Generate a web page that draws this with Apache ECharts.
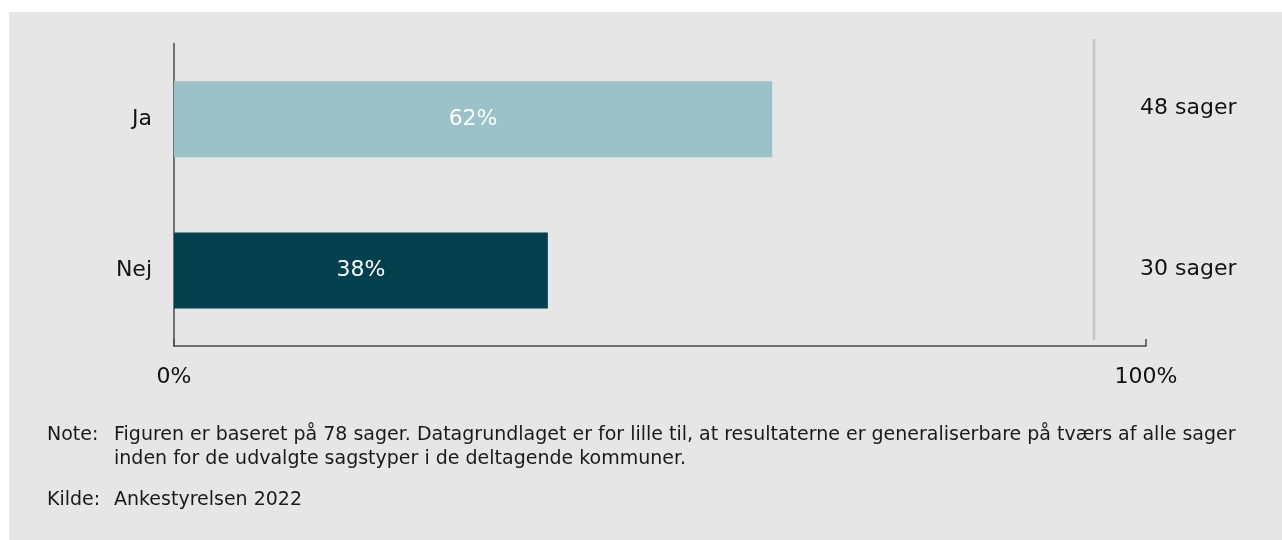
<!DOCTYPE html>
<html>
<head>
<meta charset="utf-8">
<script src="https://cdn.jsdelivr.net/npm/echarts@6/dist/echarts.min.js"></script>
<style>
  html, body { margin: 0; padding: 0; background: #fff; }
  #chart {
    position: absolute;
    left: 9px;
    top: 12px;
    width: 1273px;
    height: 528px;
  }
</style>
</head>
<body>
<div id="chart"></div>
<script>
// data
var categories = ["Ja", "Nej"];
var cases = [48, 30]; // antal sager
var barColors = ["#9bc1c9", "#02404e"];
var xTicks = [0, 100];
var noteLines = [
  "Figuren er baseret på 78 sager. Datagrundlaget er for lille til, at resultaterne er generaliserbare på tværs af alle sager",
  "inden for de udvalgte sagstyper i de deltagende kommuner."
];
var sourceText = "Ankestyrelsen 2022";

var total = cases.reduce(function (a, b) { return a + b; }, 0);
var pct = cases.map(function (c) { return (c / total) * 100; });

var font = "DejaVu Sans";
var bigSize = 22;
var noteSize = 19;
var myChart = echarts.init(document.getElementById("chart"));

function noteText(txt, x, y) {
  return {
    type: "text",
    x: x,
    y: y,
    style: {
      text: txt,
      fontFamily: font,
      fontSize: noteSize,
      fill: "#1a1a1a",
      verticalAlign: "middle",
    },
    silent: true,
  };
}

var option = {
  backgroundColor: "#e6e6e6",
  animation: false,
  grid: {
    left: 165,
    top: 31.5,
    width: 972,
    height: 302.5,
  },
  xAxis: {
    type: "value",
    min: xTicks[0],
    max: xTicks[1],
    interval: xTicks[1] - xTicks[0],
    axisLine: { show: true, lineStyle: { color: "#4a4a4a", width: 1.5 } },
    axisTick: { show: true, inside: true, length: 7, lineStyle: { color: "#4a4a4a", width: 1.5 } },
    splitLine: { show: false },
    axisLabel: {
      formatter: "{value}%",
      fontFamily: font,
      fontSize: bigSize,
      color: "#111",
      margin: 20,
    },
  },
  yAxis: [
    {
      type: "category",
      data: categories,
      inverse: true,
      axisLine: { show: true, lineStyle: { color: "#4a4a4a", width: 1.5 } },
      axisTick: { show: false },
      axisLabel: {
        fontFamily: font,
        fontSize: bigSize,
        color: "#111",
        margin: 22,
      },
    },
    {
      type: "category",
      data: categories,
      inverse: true,
      position: "right",
      axisLine: { show: false },
      axisTick: { show: false },
      axisLabel: {
        align: "left",
        margin: -6,
        formatter: function (v, i) {
          var t = cases[i] + " sager";
          return i === 0 ? "{up|" + t + "}" : "{n|" + t + "}";
        },
        rich: {
          up: { fontFamily: font, fontSize: bigSize, color: "#111", padding: [0, 0, 22, 0] },
          n: { fontFamily: font, fontSize: bigSize, color: "#111", padding: [0, 0, 2, 0] },
        },
      },
    },
  ],
  series: [
    {
      type: "bar",
      barWidth: 76,
      data: pct.map(function (v, i) {
        return { value: v, itemStyle: { color: barColors[i] } };
      }),
      label: {
        show: true,
        position: "inside",
        color: "#fff",
        fontFamily: font,
        fontSize: bigSize,
        formatter: function (p) {
          return Math.round(p.value) + "%";
        },
      },
    },
  ],
  graphic: [
    // gray separator before the count column
    {
      type: "line",
      shape: { x1: 1085, y1: 27, x2: 1085, y2: 328 },
      style: { stroke: "#c6c6c6", lineWidth: 2.5 },
      silent: true,
    },
    noteText("Note:", 38, 423),
    noteText(noteLines[0], 105, 423),
    noteText(noteLines[1], 105, 447),
    noteText("Kilde:", 38, 488),
    noteText(sourceText, 105, 488),
  ],
};
myChart.setOption(option);
</script>
</body>
</html>
